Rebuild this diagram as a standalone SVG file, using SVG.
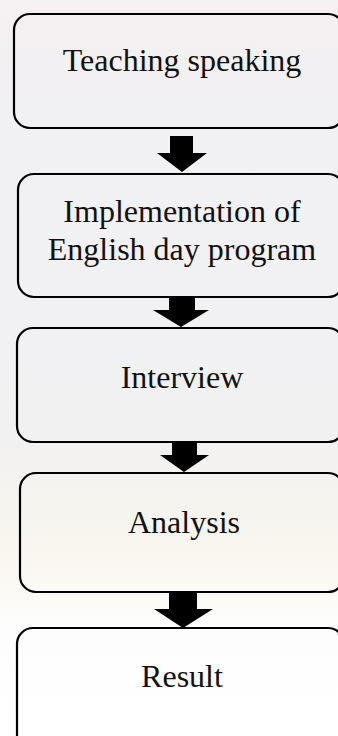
<svg xmlns="http://www.w3.org/2000/svg" width="338" height="736" viewBox="0 0 338 736">
  <defs>
    <style>
      .box { fill: none; stroke: #000; stroke-width: 2.2; }
      .lbl { font-family: "Liberation Serif", "Times New Roman", serif; font-size: 32px; fill: #111; text-anchor: middle; }
      .arr { fill: #000; }
    </style>
    <linearGradient id="bg" x1="0" y1="0" x2="0" y2="1">
      <stop offset="0" stop-color="#f6f1f2"/>
      <stop offset="0.15" stop-color="#f1f0f3"/>
      <stop offset="0.6" stop-color="#f2f1f2"/>
      <stop offset="0.75" stop-color="#f8f6ee"/>
      <stop offset="0.85" stop-color="#fdfdfd"/>
      <stop offset="1" stop-color="#ffffff"/>
    </linearGradient>
  </defs>
  <rect x="0" y="0" width="338" height="736" fill="url(#bg)"/>

  <g id="connectors">
    <polygon class="arr" points="170,136 193,136 193,153 207,153 182,172 157,153 170,153"/>
    <polygon class="arr" points="169,297 195,297 195,310 209,310 181,327 153,310 169,310"/>
    <polygon class="arr" points="172,442 197,442 197,455 209,455 184,472 160,455 172,455"/>
    <polygon class="arr" points="169,592 197,592 197,609 213,609 183,628 154,609 169,609"/>
  </g>

  <g id="node1">
    <rect class="box" x="14" y="14" width="330" height="114" rx="16"/>
    <text class="lbl" x="182" y="71">Teaching speaking</text>
  </g>
  <g id="node2">
    <rect class="box" x="18" y="174" width="326" height="123" rx="16"/>
    <text class="lbl" x="182" y="222">Implementation of</text>
    <text class="lbl" x="182" y="260">English day program</text>
  </g>
  <g id="node3">
    <rect class="box" x="17" y="328" width="327" height="114" rx="16"/>
    <text class="lbl" x="182" y="388">Interview</text>
  </g>
  <g id="node4">
    <rect class="box" x="20" y="473" width="324" height="119" rx="16"/>
    <text class="lbl" x="184" y="533">Analysis</text>
  </g>
  <g id="node5">
    <rect class="box" x="17" y="628" width="327" height="124" rx="16"/>
    <text class="lbl" x="182" y="687">Result</text>
  </g>
</svg>
